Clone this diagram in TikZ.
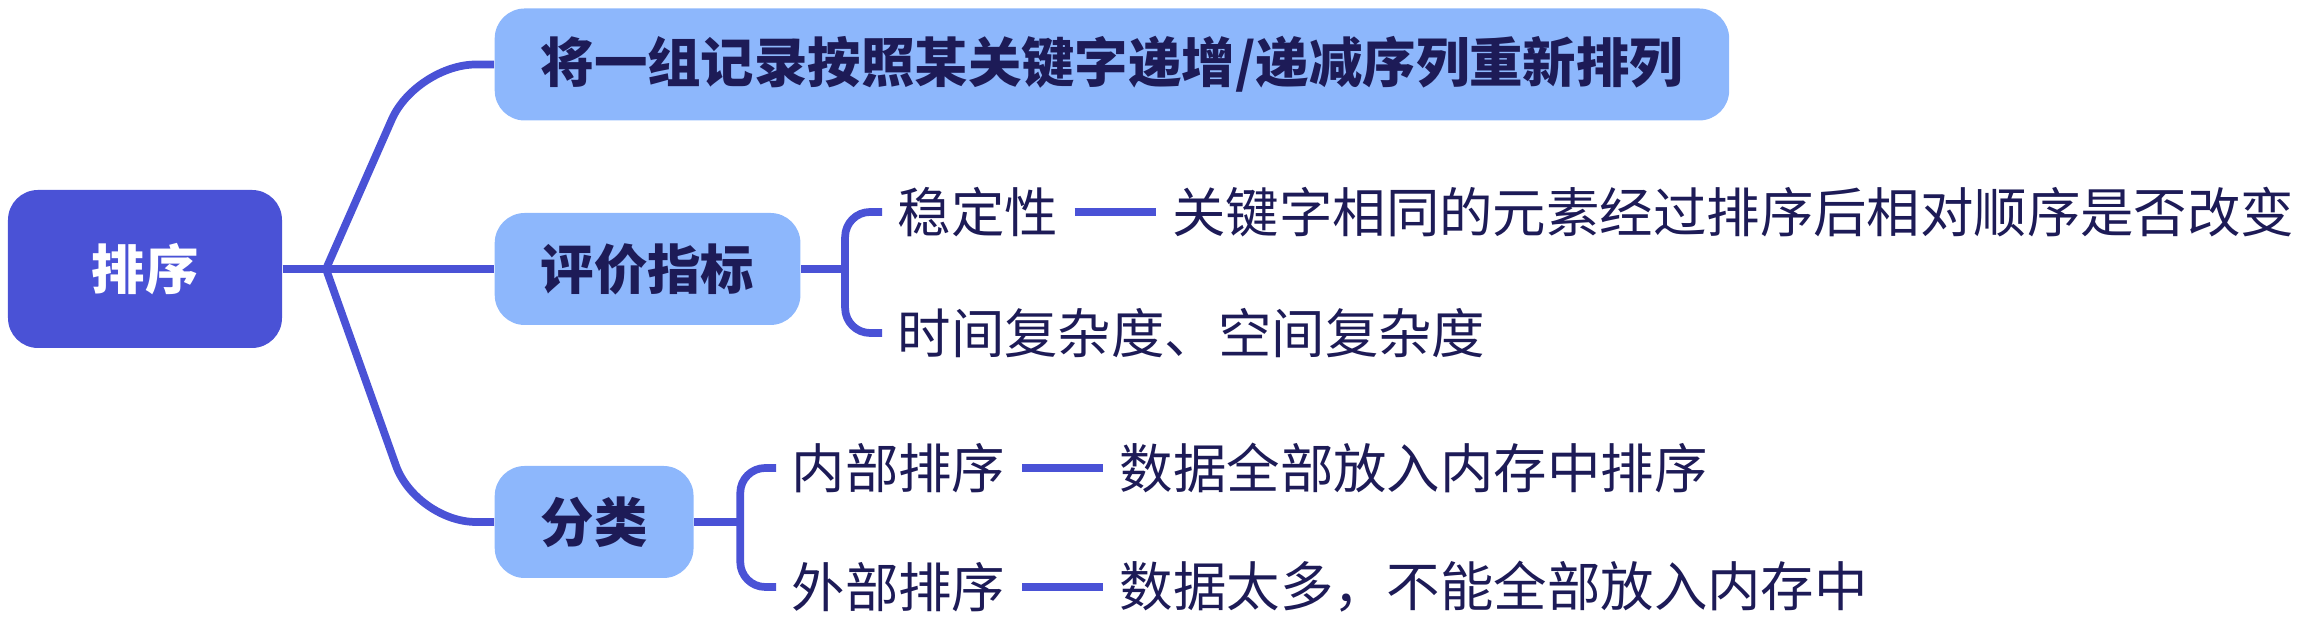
\documentclass[tikz,border=0pt]{standalone}
\usepackage{fontspec}
\setmainfont{Noto Sans CJK SC}
\usetikzlibrary{positioning,calc}
\definecolor{rootcolor}{RGB}{74,82,214}
\definecolor{topiccolor}{RGB}{141,183,252}
\definecolor{inkcolor}{RGB}{29,27,87}
\newcommand{\mapfont}{\fontsize{15.2pt}{18pt}\selectfont}
\tikzset{
  rootbox/.style={rectangle, rounded corners=0.3cm, fill=rootcolor, text=white,
    font=\mapfont\bfseries, minimum width=2.74cm, minimum height=1.58cm},
  topicbox/.style={rectangle, rounded corners=0.3cm, fill=topiccolor, text=inkcolor,
    font=\mapfont\bfseries, inner xsep=0.46cm, minimum height=1.12cm, anchor=west},
  leaftext/.style={text=inkcolor, font=\mapfont, inner sep=0pt, anchor=west},
  branchln/.style={rootcolor, line width=2.2pt, line join=round},
  dashln/.style={rootcolor, line width=2.3pt, shorten <=0.16cm, shorten >=0.16cm},
}

\begin{document}
\begin{tikzpicture}
    \useasboundingbox (0,0) rectangle (22.99,6.22);
    \node[rootbox] (root) at (1.45,3.53) {排序};
    \node[topicbox] (def) at (4.94,5.575) {将一组记录按照某关键字递增/递减序列重新排列};
    \node[topicbox] (pj) at (4.94,3.53) {评价指标};
    \node[topicbox] (cls) at (4.94,1.00) {分类};
    \coordinate (split) at (3.26,3.53);
    \draw[branchln] (root.east) -- (split) -- (pj.west);
    \draw[branchln, rounded corners=0.6cm] (split) -- ([xshift=-0.78cm]def.west) -- (def.west);
    \draw[branchln, rounded corners=0.6cm] (split) -- ([xshift=-0.78cm]cls.west) -- (cls.west);

    \node[leaftext] (wd) at (8.97,4.10) {稳定性};
    \node[leaftext, right=1.13cm of wd] (wddesc) {关键字相同的元素经过排序后相对顺序是否改变};
    \node[leaftext] (sj) at (8.97,2.89) {时间复杂度、空间复杂度};
    \coordinate (pjfork) at ($(pj.east)+(0.44,0)$);
    \draw[branchln] (pj.east) -- (pjfork);
    \draw[branchln, rounded corners=0.25cm] ([xshift=-0.15cm]wd.west) -| (pjfork) |- ([xshift=-0.15cm]sj.west);
    \draw[dashln] (wd.east) -- (wddesc.west);

    \node[leaftext] (nb) at (7.91,1.54) {内部排序};
    \node[leaftext, right=1.13cm of nb] (nbdesc) {数据全部放入内存中排序};
    \node[leaftext] (wb) at (7.91,0.35) {外部排序};
    \node[leaftext, right=1.13cm of wb] (wbdesc) {数据太多，不能全部放入内存中};
    \coordinate (clsfork) at ($(cls.east)+(0.46,0)$);
    \draw[branchln] (cls.east) -- (clsfork);
    \draw[branchln, rounded corners=0.25cm] ([xshift=-0.15cm]nb.west) -| (clsfork) |- ([xshift=-0.15cm]wb.west);
    \draw[dashln] (nb.east) -- (nbdesc.west);
    \draw[dashln] (wb.east) -- (wbdesc.west);
  \end{tikzpicture}
\end{document}
